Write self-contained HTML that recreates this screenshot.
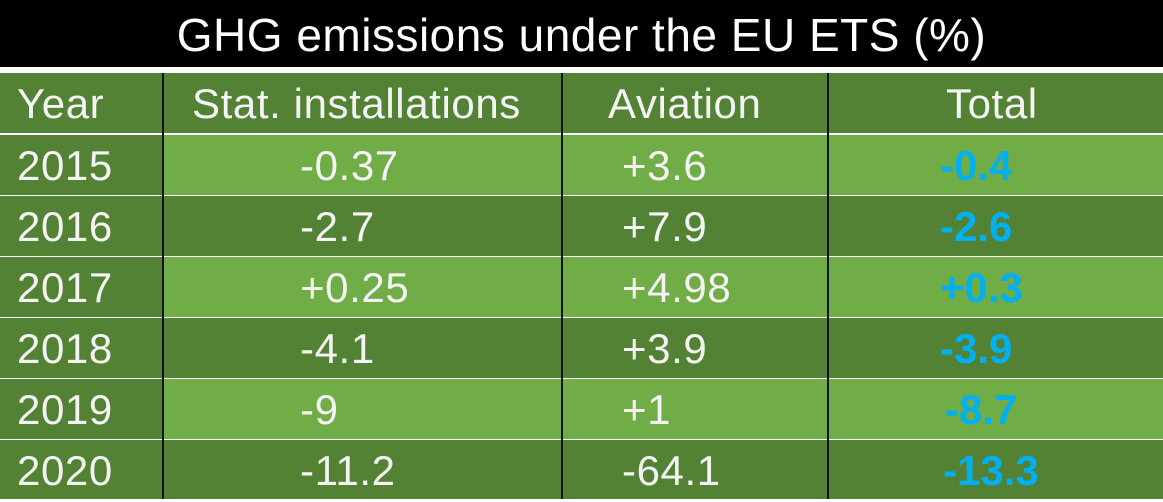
<!DOCTYPE html>
<html><head><meta charset="utf-8"><style>
body{margin:0;width:1163px;height:499px;position:relative;overflow:hidden;background:#fff;font-family:"Liberation Sans",sans-serif;}
.t{position:absolute;left:0;top:0;width:1163px;height:67px;background:#000;color:#fff;font-size:46px;line-height:70px;text-align:center;letter-spacing:0.5px;}
.c{position:absolute;height:60px;line-height:62px;color:#F4F4F4;font-size:42px;white-space:nowrap;letter-spacing:0.6px;}
.d{background:#548235}.l{background:#70AD47}
.b{color:#00B0F0;font-weight:bold;letter-spacing:0;}
.v{position:absolute;top:73px;width:2px;height:426px;background:#111;}
</style></head><body>
<div class="t">GHG emissions under the EU ETS (%)</div>
<div class="c d" style="left:0;top:73px;width:1163px;height:60px"></div>
<div class="c d" style="left:0;top:135px;width:1163px;height:60px"></div>
<div class="c l" style="left:164px;top:135px;width:999px"></div>
<div class="c d" style="left:0;top:196px;width:1163px;height:60px"></div>
<div class="c d" style="left:0;top:257px;width:1163px;height:60px"></div>
<div class="c l" style="left:164px;top:257px;width:999px"></div>
<div class="c d" style="left:0;top:318px;width:1163px;height:60px"></div>
<div class="c d" style="left:0;top:379px;width:1163px;height:60px"></div>
<div class="c l" style="left:164px;top:379px;width:999px"></div>
<div class="c d" style="left:0;top:440px;width:1163px;height:59px"></div>
<div class="v" style="left:162px"></div>
<div class="v" style="left:561px"></div>
<div class="v" style="left:827px"></div>

<div class="c" style="left:17px;top:73px">Year</div>
<div class="c" style="left:192px;top:73px">Stat. installations</div>
<div class="c" style="left:608px;top:73px">Aviation</div>
<div class="c" style="left:946px;top:73px">Total</div>

<div class="c" style="left:17px;top:135px">2015</div>
<div class="c" style="left:300px;top:135px">-0.37</div>
<div class="c" style="left:622px;top:135px">+3.6</div>
<div class="c b" style="left:940px;top:135px">-0.4</div>

<div class="c" style="left:17px;top:196px">2016</div>
<div class="c" style="left:300px;top:196px">-2.7</div>
<div class="c" style="left:622px;top:196px">+7.9</div>
<div class="c b" style="left:940px;top:196px">-2.6</div>

<div class="c" style="left:17px;top:257px">2017</div>
<div class="c" style="left:300px;top:257px">+0.25</div>
<div class="c" style="left:622px;top:257px">+4.98</div>
<div class="c b" style="left:940px;top:257px">+0.3</div>

<div class="c" style="left:17px;top:318px">2018</div>
<div class="c" style="left:300px;top:318px">-4.1</div>
<div class="c" style="left:622px;top:318px">+3.9</div>
<div class="c b" style="left:940px;top:318px">-3.9</div>

<div class="c" style="left:17px;top:379px">2019</div>
<div class="c" style="left:300px;top:379px">-9</div>
<div class="c" style="left:622px;top:379px">+1</div>
<div class="c b" style="left:945px;top:379px">-8.7</div>

<div class="c" style="left:17px;top:440px">2020</div>
<div class="c" style="left:300px;top:440px">-11.2</div>
<div class="c" style="left:622px;top:440px">-64.1</div>
<div class="c b" style="left:943px;top:440px">-13.3</div>
</body></html>
